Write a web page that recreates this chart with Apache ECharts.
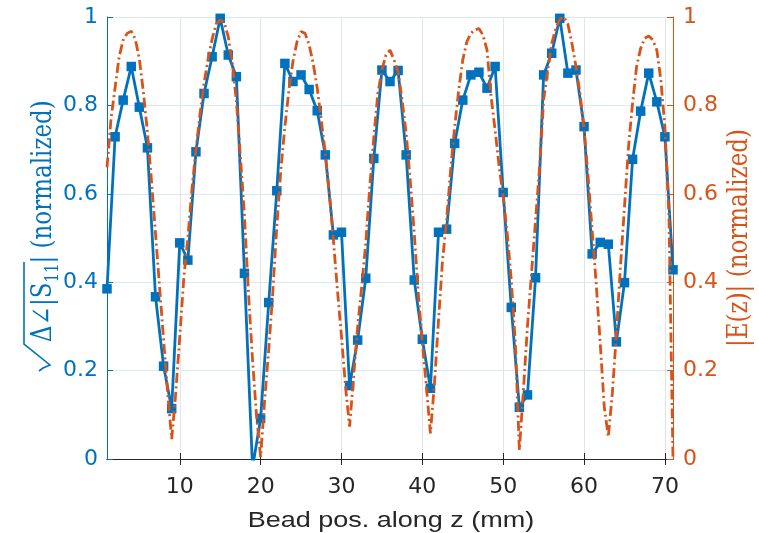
<!DOCTYPE html>
<html>
<head>
<meta charset="utf-8">
<script src="https://cdn.jsdelivr.net/npm/echarts@6/dist/echarts.min.js"></script>
<style>
  html, body { margin: 0; padding: 0; background: #fff; }
  #chart { width: 759px; height: 533px; }
</style>
</head>
<body>
<div id="chart"></div>
<script>
// Bead-pull measurement: bead position along z (mm)
const beadPos = [1,2,3,4,5,6,7,8,9,10,11,12,13,14,15,16,17,18,19,20,
  21,22,23,24,25,26,27,28,29,30,31,32,33,34,35,36,37,38,39,40,
  41,42,43,44,45,46,47,48,49,50,51,52,53,54,55,56,57,58,59,60,
  61,62,63,64,65,66,67,68,69,70,71];

// sqrt of the S11 phase shift, normalized
const s11Norm = [0.385,0.729,0.812,0.888,0.796,0.704,0.367,0.210,0.114,0.489,
  0.450,0.695,0.827,0.910,0.997,0.914,0.865,0.420,-0.02,0.092,
  0.354,0.607,0.895,0.854,0.869,0.836,0.788,0.688,0.507,0.513,
  0.166,0.269,0.409,0.680,0.880,0.854,0.879,0.688,0.405,0.271,
  0.160,0.513,0.520,0.714,0.812,0.869,0.875,0.839,0.888,0.603,
  0.343,0.117,0.145,0.410,0.869,0.918,0.997,0.873,0.880,0.752,
  0.464,0.490,0.486,0.265,0.399,0.678,0.787,0.873,0.808,0.729,
  0.428];

// Simulated field positions (mm)
const fieldPos = [1,1.5,2,2.5,3,3.5,4,4.5,5,5.5,6,6.5,7,7.5,8,8.5,9,9.5,10,10.5,
  11,11.5,12,12.5,13,13.5,14,14.5,15,15.5,16,16.5,17,17.5,18,18.5,19,19.5,20,20.5,
  21,21.5,22,22.5,23,23.5,24,24.5,25,25.5,26,26.5,27,27.5,28,28.5,29,29.5,30,30.5,
  31,31.5,32,32.5,33,33.5,34,34.5,35,35.5,36,36.5,37,37.5,38,38.5,39,39.5,40,40.5,
  41,41.5,42,42.5,43,43.5,44,44.5,45,45.5,46,46.5,47,47.5,48,48.5,49,49.5,50,50.5,
  51,51.5,52,52.5,53,53.5,54,54.5,55,55.5,56,56.5,57,57.5,58,58.5,59,59.5,60,60.5,
  61,61.5,62,62.5,63,63.5,64,64.5,65,65.5,66,66.5,67,67.5,68,68.5,69,69.5,70,70.5,71];

// |E(z)|, normalized
const fieldNorm = [0.66,0.77,0.84,0.91,0.948,0.963,0.968,0.95,0.905,0.83,
  0.74,0.63,0.51,0.39,0.27,0.15,0.045,0.149,0.277,0.41,
  0.50,0.61,0.70,0.78,0.85,0.905,0.95,0.984,0.993,0.987,
  0.955,0.895,0.81,0.685,0.55,0.375,0.224,0.096,0.005,0.133,
  0.247,0.375,0.526,0.654,0.752,0.835,0.90,0.944,0.967,0.963,
  0.937,0.895,0.839,0.767,0.692,0.601,0.495,0.382,0.277,0.164,
  0.073,0.186,0.30,0.39,0.488,0.616,0.729,0.827,0.88,0.914,
  0.925,0.903,0.876,0.812,0.737,0.631,0.511,0.375,0.262,0.164,
  0.058,0.171,0.314,0.45,0.541,0.654,0.752,0.835,0.903,0.944,
  0.963,0.971,0.974,0.959,0.925,0.82,0.744,0.661,0.594,0.51,
  0.405,0.262,0.02,0.156,0.30,0.42,0.54,0.661,0.812,0.88,
  0.94,0.974,0.995,1.0,0.984,0.94,0.888,0.827,0.744,0.639,
  0.518,0.397,0.262,0.118,0.05,0.149,0.284,0.435,0.571,0.707,
  0.805,0.888,0.929,0.952,0.957,0.948,0.925,0.857,0.75,0.55,0.0];

const xTicks = [10, 20, 30, 40, 50, 60, 70];

const BLUE = '#0072BD';
const ORANGE = '#D95319';
const DARK = '#262626';

const chart = echarts.init(document.getElementById('chart'), null, { renderer: 'canvas' });

const tickFont = { fontFamily: 'DejaVu Sans', fontSize: 22 };

chart.setOption({
  animation: false,
  backgroundColor: '#ffffff',
  grid: { left: 107, right: 86, top: 17, bottom: 74, outerBoundsMode: 'none' },
  xAxis: [
    {
      type: 'value', min: 1, max: 71, position: 'bottom',
      axisLine: { show: true, lineStyle: { color: DARK, width: 1 } },
      axisTick: { show: true, inside: true, length: 6, customValues: xTicks, lineStyle: { color: DARK } },
      axisLabel: Object.assign({ customValues: xTicks, color: DARK, margin: 17 }, tickFont),
      splitLine: { show: true, lineStyle: { color: '#e3e3e3', width: 1 } }
    },
    {
      type: 'value', min: 1, max: 71, position: 'top',
      axisLine: { show: true, lineStyle: { color: DARK, width: 1 } },
      axisTick: { show: true, inside: true, length: 6, customValues: xTicks, lineStyle: { color: DARK } },
      axisLabel: { show: false },
      splitLine: { show: false }
    }
  ],
  yAxis: [
    {
      type: 'value', min: 0, max: 1, interval: 0.2, position: 'left',
      axisLine: { show: true, lineStyle: { color: BLUE, width: 1 } },
      axisTick: { show: true, inside: true, length: 6, lineStyle: { color: BLUE } },
      axisLabel: Object.assign({ color: BLUE, margin: 9 }, tickFont),
      splitLine: { show: true, lineStyle: { color: '#dbe9f5', width: 1 } }
    },
    {
      type: 'value', min: 0, max: 1, interval: 0.2, position: 'right',
      axisLine: { show: true, lineStyle: { color: ORANGE, width: 1 } },
      axisTick: { show: true, inside: true, length: 6, lineStyle: { color: ORANGE } },
      axisLabel: Object.assign({ color: ORANGE, margin: 10 }, tickFont),
      splitLine: { show: false }
    }
  ],
  series: [
    {
      name: 'S11',
      type: 'line',
      xAxisIndex: 0, yAxisIndex: 0,
      data: beadPos.map((x, i) => [x, s11Norm[i]]),
      clip: true,
      symbol: 'rect',
      symbolSize: 9.5,
      showSymbol: true,
      itemStyle: { color: BLUE },
      lineStyle: { color: BLUE, width: 2.8 },
      z: 2
    },
    {
      name: 'E',
      type: 'line',
      xAxisIndex: 0, yAxisIndex: 1,
      data: fieldPos.map((x, i) => [x, fieldNorm[i]]),
      clip: true,
      showSymbol: false,
      symbol: 'none',
      lineStyle: { color: ORANGE, width: 2.8, type: [10, 3.5, 2, 3.5] },
      z: 3
    }
  ],
  graphic: [
    // x-axis title
    {
      type: 'text', x: 391, y: 521, scaleX: 1.2,
      style: {
        text: 'Bead pos. along z (mm)',
        fontFamily: 'Liberation Sans', fontSize: 22.5, fill: DARK,
        align: 'center', verticalAlign: 'middle',
        textAlign: 'center', textVerticalAlign: 'middle'
      }
    },
    // left axis title: radical sign with overline
    {
      type: 'polyline',
      shape: { points: [[39, 371], [43, 368], [50, 365], [24, 344], [24, 262]] },
      style: { stroke: BLUE, lineWidth: 1.6, fill: null }
    },
    {
      type: 'group', x: 44, y: 342, rotation: Math.PI / 2, scaleY: 1.2,
      children: [{
        type: 'text',
        style: {
          text: 'Δ∠|S{s|11}| (normalized)',
          fontFamily: 'DejaVu Serif', fontSize: 23, fill: BLUE,
          lineHeight: 30,
          align: 'left', verticalAlign: 'middle',
          textAlign: 'left', textVerticalAlign: 'middle',
          rich: {
            s: { fontFamily: 'DejaVu Serif', fontSize: 15, lineHeight: 15, verticalAlign: 'bottom', fill: BLUE }
          }
        }
      }]
    },
    // right axis title
    {
      type: 'group', x: 740, y: 347, rotation: Math.PI / 2, scaleY: 1.2,
      children: [{
        type: 'text',
        style: {
          text: '|E(z)| (normalized)',
          fontFamily: 'DejaVu Serif', fontSize: 23, fill: ORANGE,
          align: 'left', verticalAlign: 'middle',
          textAlign: 'left', textVerticalAlign: 'middle'
        }
      }]
    }
  ]
});
</script>
</body>
</html>
